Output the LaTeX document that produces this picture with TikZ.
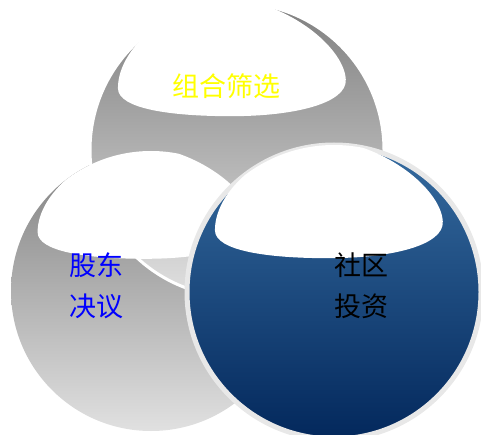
\documentclass[tikz,border=0pt]{standalone}
\usepackage{fontspec}
\newfontfamily\cjk{Noto Sans CJK SC}
\definecolor{bluetop}{RGB}{54,108,160}
\definecolor{bluebot}{RGB}{3,40,92}
\definecolor{rimgray}{RGB}{232,232,232}
\newcommand\glossdome[3]{%
  \begin{scope}[shift={(#1,#2)},scale=#3]
    \clip (0,0) circle (1);
    \fill[white] (-0.04,0.23) .. controls (0.40,0.23) and (0.75,0.32) .. (0.74,0.48)
      .. controls (0.73,0.68) and (0.40,0.97) .. (0,1.03)
      .. controls (-0.40,1.03) and (-0.81,0.72) .. (-0.81,0.42)
      .. controls (-0.81,0.28) and (-0.45,0.23) .. (-0.04,0.23) -- cycle;
  \end{scope}}
\tikzset{
  graybubble/.style={top color=black!50, bottom color=black!12},
  bluebubble/.style={top color=bluetop, bottom color=bluebot, draw=rimgray, line width=5pt},
  label/.style={font=\cjk\fontsize{27}{41}\selectfont, align=center, inner sep=0pt}
}
\begin{document}
\begin{tikzpicture}[x=1pt,y=1pt]
\clip (0,0) rectangle (481,434);
% left bubble
\path[graybubble] (151,143) circle (140);
% top bubble
\path[graybubble, draw=white, line width=3pt] (237,284) circle (147);
\glossdome{237}{284}{147}
\glossdome{151}{143}{140}
% right bubble
\path[bluebubble] (334,142) circle (147);
\glossdome{334}{142}{147}
% labels
\node[label, text={rgb,255:red,255;green,255;blue,0}] (t1) at (226,348) {组合筛选};
\node[label, text=blue] (t2) at (96.5,148.5) {股东\\决议};
\node[label, text=black] (t3) at (361.5,148.5) {社区\\投资};
\end{tikzpicture}
\end{document}
